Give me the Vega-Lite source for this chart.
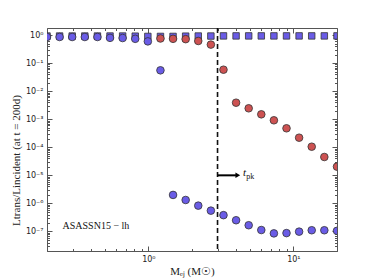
{
  "$schema": "https://vega.github.io/schema/vega-lite/v6.json",
  "width": 290,
  "height": 223,
  "autosize": {"type": "none"},
  "padding": {"left": 47, "top": 28, "right": 37, "bottom": 28},
  "background": "white",
  "config": {
    "view": {"stroke": null},
    "axis": {
      "grid": false,
      "domainColor": "#555555",
      "tickColor": "#555555",
      "labelFont": "DejaVu Sans",
      "labelFontSize": 8,
      "labelColor": "#222222",
      "labelOverlap": false,
      "titleFont": "Liberation Serif",
      "titleFontSize": 11,
      "titleFontWeight": "normal",
      "titleColor": "#222222"
    }
  },
  "datasets": {
    "pts": [
      {"m": 0.2, "val": 0.93, "s": "total"},
      {"m": 0.2443, "val": 0.93, "s": "total"},
      {"m": 0.2984, "val": 0.93, "s": "total"},
      {"m": 0.3646, "val": 0.93, "s": "total"},
      {"m": 0.4454, "val": 0.93, "s": "total"},
      {"m": 0.5441, "val": 0.93, "s": "total"},
      {"m": 0.6647, "val": 0.93, "s": "total"},
      {"m": 0.812, "val": 0.92, "s": "total"},
      {"m": 0.992, "val": 0.9, "s": "total"},
      {"m": 1.2118, "val": 0.9, "s": "total"},
      {"m": 1.4804, "val": 0.9, "s": "total"},
      {"m": 1.8085, "val": 0.92, "s": "total"},
      {"m": 2.2093, "val": 0.93, "s": "total"},
      {"m": 2.6989, "val": 0.93, "s": "total"},
      {"m": 3.297, "val": 0.94, "s": "total"},
      {"m": 4.0277, "val": 0.94, "s": "total"},
      {"m": 4.9204, "val": 0.94, "s": "total"},
      {"m": 6.0109, "val": 0.94, "s": "total"},
      {"m": 7.343, "val": 0.94, "s": "total"},
      {"m": 8.9703, "val": 0.94, "s": "total"},
      {"m": 10.958, "val": 0.94, "s": "total"},
      {"m": 13.387, "val": 0.94, "s": "total"},
      {"m": 16.354, "val": 0.94, "s": "total"},
      {"m": 20.0, "val": 0.94, "s": "total"},
      {"m": 1.2118, "val": 0.76, "s": "red"},
      {"m": 1.4804, "val": 0.74, "s": "red"},
      {"m": 1.8085, "val": 0.72, "s": "red"},
      {"m": 2.2093, "val": 0.62, "s": "red"},
      {"m": 2.6989, "val": 0.46, "s": "red"},
      {"m": 3.297, "val": 0.0586, "s": "red"},
      {"m": 4.0277, "val": 0.0039, "s": "red"},
      {"m": 4.9204, "val": 0.00246, "s": "red"},
      {"m": 6.0109, "val": 0.0015, "s": "red"},
      {"m": 7.343, "val": 0.000918, "s": "red"},
      {"m": 8.9703, "val": 0.000476, "s": "red"},
      {"m": 10.958, "val": 0.00022, "s": "red"},
      {"m": 13.387, "val": 0.000105, "s": "red"},
      {"m": 16.354, "val": 0.0000451, "s": "red"},
      {"m": 20.0, "val": 0.0000204, "s": "red"},
      {"m": 0.2, "val": 0.86, "s": "blue"},
      {"m": 0.2443, "val": 0.86, "s": "blue"},
      {"m": 0.2984, "val": 0.86, "s": "blue"},
      {"m": 0.3646, "val": 0.86, "s": "blue"},
      {"m": 0.4454, "val": 0.86, "s": "blue"},
      {"m": 0.5441, "val": 0.8, "s": "blue"},
      {"m": 0.6647, "val": 0.79, "s": "blue"},
      {"m": 0.812, "val": 0.74, "s": "blue"},
      {"m": 0.992, "val": 0.6, "s": "blue"},
      {"m": 1.2118, "val": 0.0557, "s": "blue"},
      {"m": 1.4804, "val": 0.000002, "s": "blue"},
      {"m": 1.8085, "val": 0.00000132, "s": "blue"},
      {"m": 2.2093, "val": 0.00000083, "s": "blue"},
      {"m": 2.6989, "val": 0.00000055, "s": "blue"},
      {"m": 3.297, "val": 0.00000038, "s": "blue"},
      {"m": 4.0277, "val": 0.00000025, "s": "blue"},
      {"m": 4.9204, "val": 0.000000166, "s": "blue"},
      {"m": 6.0109, "val": 0.000000112, "s": "blue"},
      {"m": 7.343, "val": 0.000000085, "s": "blue"},
      {"m": 8.9703, "val": 0.000000087, "s": "blue"},
      {"m": 10.958, "val": 0.000000098, "s": "blue"},
      {"m": 13.387, "val": 0.00000011, "s": "blue"},
      {"m": 16.354, "val": 0.00000011, "s": "blue"},
      {"m": 20.0, "val": 0.000000105, "s": "blue"}
    ],
    "vline": [{"m": 3.0}],
    "arrow": [{"m": 3.0, "m2": 4.02, "val": 0.00001}],
    "head": [{"m": 4.14, "val": 0.00001}],
    "tlab": [{"m": 4.5, "val": 0.0000118, "t": "t"}],
    "pklab": [{"m": 4.74, "val": 0.0000085, "t": "pk"}],
    "name": [{"m": 0.256, "val": 0.000000155, "t": "ASASSN15 − lh"}]
  },
  "layer": [
    {
      "data": {"name": "pts"},
      "transform": [{"filter": "datum.s === 'total'"}],
      "mark": {"type": "point", "shape": "square", "filled": true, "size": 42, "fill": "#6a5ce6", "stroke": "#333333", "strokeWidth": 0.8, "opacity": 1, "clip": true},
      "encoding": {
        "x": {
          "field": "m", "type": "quantitative",
          "scale": {"type": "log", "domain": [0.2, 20], "nice": false},
          "axis": {
            "orient": "bottom",
            "values": [0.2, 0.3, 0.4, 0.5, 0.6, 0.7, 0.8, 0.9, 1, 2, 3, 4, 5, 6, 7, 8, 9, 10, 20],
            "labelExpr": "abs(log(datum.value)/LN10 - round(log(datum.value)/LN10)) < 0.001 ? '10' + (round(log(datum.value)/LN10) < 0 ? '⁻' : '') + ['⁰','¹','²','³','⁴','⁵','⁶','⁷','⁸','⁹'][abs(round(log(datum.value)/LN10))] : ''",
            "tickSize": {"condition": {"test": "abs(log(datum.value)/LN10 - round(log(datum.value)/LN10)) < 0.001", "value": -5}, "value": -2.5},
            "labelPadding": 9,
            "title": "Mₑⱼ  (M☉)",
            "titlePadding": 0
          }
        },
        "y": {
          "field": "val", "type": "quantitative",
          "scale": {"type": "log", "domain": [2e-8, 1.8], "nice": false},
          "axis": {
            "orient": "left",
            "values": [2e-8, 3e-8, 4e-8, 5e-8, 6e-8, 7e-8, 8e-8, 9e-8, 1e-7, 2e-7, 3e-7, 4e-7, 5e-7, 6e-7, 7e-7, 8e-7, 9e-7, 1e-6, 2e-6, 3e-6, 4e-6, 5e-6, 6e-6, 7e-6, 8e-6, 9e-6, 1e-5, 2e-5, 3e-5, 4e-5, 5e-5, 6e-5, 7e-5, 8e-5, 9e-5, 1e-4, 2e-4, 3e-4, 4e-4, 5e-4, 6e-4, 7e-4, 8e-4, 9e-4, 0.001, 0.002, 0.003, 0.004, 0.005, 0.006, 0.007, 0.008, 0.009, 0.01, 0.02, 0.03, 0.04, 0.05, 0.06, 0.07, 0.08, 0.09, 0.1, 0.2, 0.3, 0.4, 0.5, 0.6, 0.7, 0.8, 0.9, 1],
            "labelExpr": "abs(log(datum.value)/LN10 - round(log(datum.value)/LN10)) < 0.001 ? '10' + (round(log(datum.value)/LN10) < 0 ? '⁻' : '') + ['⁰','¹','²','³','⁴','⁵','⁶','⁷','⁸','⁹'][abs(round(log(datum.value)/LN10))] : ''",
            "tickSize": {"condition": {"test": "abs(log(datum.value)/LN10 - round(log(datum.value)/LN10)) < 0.001", "value": -5}, "value": -2.5},
            "labelPadding": 9,
            "title": "Ltrans/Lincident   (at  t = 200d)",
            "titleX": -31,
            "titleY": 132,
            "titleAngle": -90,
            "titleAlign": "center",
            "titleBaseline": "middle"
          }
        }
      }
    },
    {
      "data": {"name": "pts"},
      "transform": [{"filter": "datum.s === 'red'"}],
      "mark": {"type": "point", "shape": "circle", "filled": true, "size": 58, "fill": "#cd5252", "stroke": "#333333", "strokeWidth": 0.8, "opacity": 1, "clip": true},
      "encoding": {
        "x": {
          "field": "m", "type": "quantitative",
          "scale": {"type": "log", "domain": [0.2, 20], "nice": false},
          "axis": {
            "orient": "top",
            "values": [0.2, 0.3, 0.4, 0.5, 0.6, 0.7, 0.8, 0.9, 1, 2, 3, 4, 5, 6, 7, 8, 9, 10, 20],
            "labels": false,
            "tickSize": {"condition": {"test": "abs(log(datum.value)/LN10 - round(log(datum.value)/LN10)) < 0.001", "value": -5}, "value": -2.5},
            "title": null
          }
        },
        "y": {
          "field": "val", "type": "quantitative",
          "scale": {"type": "log", "domain": [2e-8, 1.8], "nice": false},
          "axis": {
            "orient": "right",
            "values": [2e-8, 3e-8, 4e-8, 5e-8, 6e-8, 7e-8, 8e-8, 9e-8, 1e-7, 2e-7, 3e-7, 4e-7, 5e-7, 6e-7, 7e-7, 8e-7, 9e-7, 1e-6, 2e-6, 3e-6, 4e-6, 5e-6, 6e-6, 7e-6, 8e-6, 9e-6, 1e-5, 2e-5, 3e-5, 4e-5, 5e-5, 6e-5, 7e-5, 8e-5, 9e-5, 1e-4, 2e-4, 3e-4, 4e-4, 5e-4, 6e-4, 7e-4, 8e-4, 9e-4, 0.001, 0.002, 0.003, 0.004, 0.005, 0.006, 0.007, 0.008, 0.009, 0.01, 0.02, 0.03, 0.04, 0.05, 0.06, 0.07, 0.08, 0.09, 0.1, 0.2, 0.3, 0.4, 0.5, 0.6, 0.7, 0.8, 0.9, 1],
            "labels": false,
            "tickSize": {"condition": {"test": "abs(log(datum.value)/LN10 - round(log(datum.value)/LN10)) < 0.001", "value": -5}, "value": -2.5},
            "title": null
          }
        }
      }
    },
    {
      "data": {"name": "pts"},
      "transform": [{"filter": "datum.s === 'blue'"}],
      "mark": {"type": "point", "shape": "circle", "filled": true, "size": 58, "fill": "#6a5ce6", "stroke": "#333333", "strokeWidth": 0.8, "opacity": 1, "clip": true},
      "encoding": {
        "x": {"field": "m", "type": "quantitative", "scale": {"type": "log", "domain": [0.2, 20], "nice": false}, "axis": null},
        "y": {"field": "val", "type": "quantitative", "scale": {"type": "log", "domain": [2e-8, 1.8], "nice": false}, "axis": null}
      }
    },
    {
      "data": {"name": "vline"},
      "mark": {"type": "rule", "color": "#111111", "strokeWidth": 1.6, "strokeDash": [5, 3]},
      "encoding": {
        "x": {"field": "m", "type": "quantitative", "scale": {"type": "log", "domain": [0.2, 20], "nice": false}, "axis": null}
      }
    },
    {
      "data": {"name": "arrow"},
      "mark": {"type": "rule", "color": "#000000", "strokeWidth": 2},
      "encoding": {
        "x": {"field": "m", "type": "quantitative", "scale": {"type": "log", "domain": [0.2, 20], "nice": false}, "axis": null},
        "x2": {"field": "m2"},
        "y": {"field": "val", "type": "quantitative", "scale": {"type": "log", "domain": [2e-8, 1.8], "nice": false}, "axis": null}
      }
    },
    {
      "data": {"name": "head"},
      "mark": {"type": "point", "shape": "triangle-right", "filled": true, "size": 30, "color": "#000000", "opacity": 1},
      "encoding": {
        "x": {"field": "m", "type": "quantitative", "scale": {"type": "log", "domain": [0.2, 20], "nice": false}, "axis": null},
        "y": {"field": "val", "type": "quantitative", "scale": {"type": "log", "domain": [2e-8, 1.8], "nice": false}, "axis": null}
      }
    },
    {
      "data": {"name": "tlab"},
      "mark": {"type": "text", "align": "left", "baseline": "middle", "font": "Liberation Serif", "fontStyle": "italic", "fontSize": 11, "color": "#111111"},
      "encoding": {
        "x": {"field": "m", "type": "quantitative", "scale": {"type": "log", "domain": [0.2, 20], "nice": false}, "axis": null},
        "y": {"field": "val", "type": "quantitative", "scale": {"type": "log", "domain": [2e-8, 1.8], "nice": false}, "axis": null},
        "text": {"field": "t"}
      }
    },
    {
      "data": {"name": "pklab"},
      "mark": {"type": "text", "align": "left", "baseline": "middle", "font": "Liberation Serif", "fontSize": 8, "color": "#111111"},
      "encoding": {
        "x": {"field": "m", "type": "quantitative", "scale": {"type": "log", "domain": [0.2, 20], "nice": false}, "axis": null},
        "y": {"field": "val", "type": "quantitative", "scale": {"type": "log", "domain": [2e-8, 1.8], "nice": false}, "axis": null},
        "text": {"field": "t"}
      }
    },
    {
      "data": {"name": "name"},
      "mark": {"type": "text", "align": "left", "baseline": "middle", "font": "Liberation Serif", "fontSize": 10, "color": "#111111"},
      "encoding": {
        "x": {"field": "m", "type": "quantitative", "scale": {"type": "log", "domain": [0.2, 20], "nice": false}, "axis": null},
        "y": {"field": "val", "type": "quantitative", "scale": {"type": "log", "domain": [2e-8, 1.8], "nice": false}, "axis": null},
        "text": {"field": "t"}
      }
    }
  ],
  "resolve": {"axis": {"x": "independent", "y": "independent"}}
}
